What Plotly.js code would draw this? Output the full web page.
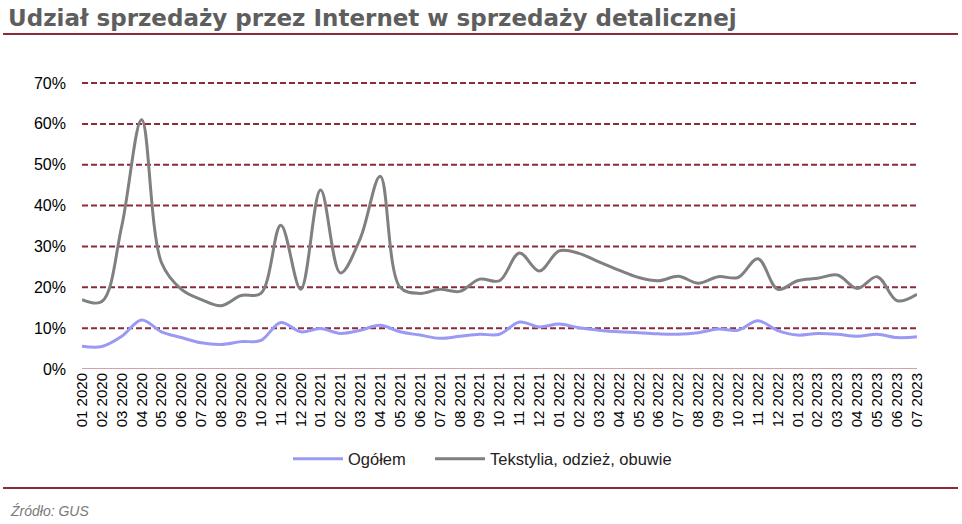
<!DOCTYPE html>
<html>
<head>
<meta charset="utf-8">
<script src="https://cdn.plot.ly/plotly-3.0.1.min.js"></script>
<style>
html,body{margin:0;padding:0;background:#fff;}
#chart{width:962px;height:524px;}
</style>
</head>
<body>
<div id="chart"></div>
<script>
const months = ["01 2020","02 2020","03 2020","04 2020","05 2020","06 2020","07 2020","08 2020","09 2020","10 2020","11 2020","12 2020",
"01 2021","02 2021","03 2021","04 2021","05 2021","06 2021","07 2021","08 2021","09 2021","10 2021","11 2021","12 2021",
"01 2022","02 2022","03 2022","04 2022","05 2022","06 2022","07 2022","08 2022","09 2022","10 2022","11 2022","12 2022",
"01 2023","02 2023","03 2023","04 2023","05 2023","06 2023","07 2023"];

const ogolem = [0.056,0.055,0.080,0.120,0.091,0.077,0.064,0.060,0.067,0.070,0.114,0.091,
0.099,0.087,0.095,0.107,0.091,0.083,0.075,0.080,0.085,0.085,0.115,0.103,
0.110,0.101,0.095,0.091,0.089,0.086,0.085,0.089,0.098,0.095,0.118,0.094,
0.083,0.087,0.085,0.080,0.085,0.077,0.079];

const tekstylia = [0.170,0.165,0.350,0.610,0.260,0.195,0.170,0.155,0.180,0.185,0.352,0.195,
0.438,0.235,0.320,0.472,0.200,0.185,0.195,0.190,0.220,0.216,0.284,0.240,
0.289,0.283,0.262,0.242,0.224,0.216,0.227,0.210,0.226,0.224,0.270,0.195,
0.216,0.222,0.230,0.197,0.226,0.167,0.183];

const yGrid = [0.1,0.2,0.3,0.4,0.5,0.6,0.7];
const yTickVals = [0,0.1,0.2,0.3,0.4,0.5,0.6,0.7];
const yTickText = ["0%","10%","20%","30%","40%","50%","60%","70%"];

const seriesNames = ["Ogółem","Tekstylia, odzież, obuwie"];
const titleText = "Udział sprzedaży przez Internet w sprzedaży detalicznej";
const sourceText = "Źródło: GUS";

// layout helpers (pixel -> paper)
const W = 962, H = 524;
const mL = 82, mR = 45, mT = 82, mB = 155;
const pw = W - mL - mR, ph = H - mT - mB;
const px = x => (x - mL) / pw;
const py = y => (H - mB - y) / ph;

const red = "#8c2a3b";
const font = "Liberation Sans, Arial, sans-serif";

const traces = [
  {x: months, y: ogolem, name: seriesNames[0], type: "scatter", mode: "lines", legend: "legend",
   line: {color: "#9a9af5", width: 3, shape: "spline", smoothing: 1}},
  {x: months, y: tekstylia, name: seriesNames[1], type: "scatter", mode: "lines", legend: "legend2",
   line: {color: "#808080", width: 3, shape: "spline", smoothing: 1}}
];

const legendBase = {orientation: "h", xanchor: "left", y: py(459), yanchor: "middle",
  font: {size: 16.5, color: "#222", family: font}, itemwidth: 50, bgcolor: "rgba(0,0,0,0)"};

const layout = {
  width: W, height: H,
  margin: {l: mL, r: mR, t: mT, b: mB, pad: 0},
  paper_bgcolor: "#fff", plot_bgcolor: "#fff",
  font: {family: font, color: "#000"},
  showlegend: true,
  legend: Object.assign({}, legendBase, {x: px(288)}),
  legend2: Object.assign({}, legendBase, {x: px(430)}),
  title: {text: "<b>" + titleText + "</b>", x: 8 / W, xanchor: "left", xref: "container",
          y: 1 - 18 / H, yanchor: "middle", yref: "container",
          font: {size: 23, color: "#5e5e5e", family: "DejaVu Sans, sans-serif"}},
  xaxis: {type: "category", range: [0, months.length - 1], tickangle: -90,
          tickfont: {size: 15, color: "#000", family: font},
          showgrid: false, zeroline: false, showline: false, ticks: "", fixedrange: true},
  yaxis: {range: [0, 0.7025], tickvals: yTickVals, ticktext: yTickText,
          tickfont: {size: 16, color: "#000", family: font},
          showgrid: false, zeroline: false, showline: false, ticks: "", ticklabelstandoff: 15, fixedrange: true},
  shapes: [
    {type: "line", xref: "paper", yref: "paper", x0: px(3), x1: px(958), y0: py(34), y1: py(34),
     line: {color: red, width: 2}},
    {type: "line", xref: "paper", yref: "y", x0: 0, x1: 1, y0: 0, y1: 0,
     line: {color: "#a54657", width: 1}},
    {type: "line", xref: "paper", yref: "paper", x0: px(3), x1: px(958), y0: py(488), y1: py(488),
     line: {color: red, width: 2}}
  ].concat(yGrid.map(v => ({type: "line", xref: "paper", yref: "y", x0: 0, x1: 1, y0: v, y1: v,
     layer: "below", line: {color: red, width: 2, dash: "6px,3px"}}))),
  annotations: [
    {text: "<i>" + sourceText + "</i>", xref: "paper", yref: "paper", x: px(8), y: py(511),
     xanchor: "left", yanchor: "middle", showarrow: false,
     font: {size: 14, color: "#7a7a7a", family: font}}
  ]
};

Plotly.newPlot("chart", traces, layout, {displayModeBar: false, staticPlot: true});
</script>
</body>
</html>
